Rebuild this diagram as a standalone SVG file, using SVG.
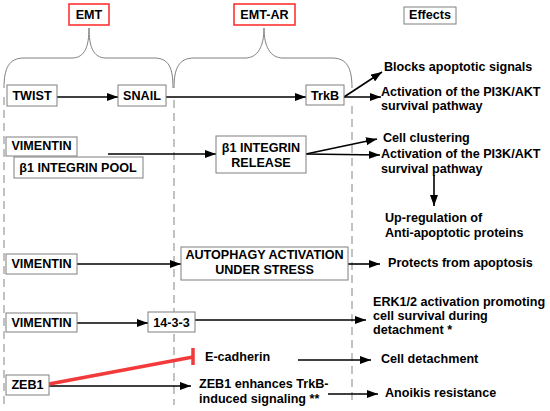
<svg xmlns="http://www.w3.org/2000/svg" width="550" height="411" viewBox="0 0 550 411">
<style>
text{font-family:"Liberation Sans",Arial,sans-serif;font-weight:bold;font-size:12.6px;fill:#000}
.c{text-anchor:middle}
.box{fill:#fff;stroke:#7f7f7f;stroke-width:1}
.red{fill:#fff;stroke:#ff3333;stroke-width:1.6}
.dash{stroke:#9a9a9a;stroke-width:1.2;stroke-dasharray:8,5;fill:none}
.brace{stroke:#808080;stroke-width:1;fill:none}
.arr{stroke:#000;stroke-width:1.6;fill:none;marker-end:url(#ah)}
</style>
<defs>
<marker id="ah" markerUnits="userSpaceOnUse" markerWidth="12" markerHeight="8" refX="11" refY="4" orient="auto">
<path d="M0,0 L11,4 L0,8 z" fill="#000"/>
</marker>
</defs>
<rect width="550" height="411" fill="#fff"/>
<g id="guides">
<line class="dash" x1="4" y1="97" x2="4" y2="405"/>
<line class="dash" x1="174" y1="100" x2="174" y2="405"/>
<line class="dash" x1="352" y1="106" x2="352" y2="405"/>
<path class="brace" d="M4,88 C4,68 9,58 24,58 L72,58 C85,58 89,46 89,28 C89,46 93,58 106,58 L154,58 C169,58 173,68 173,88"/>
<path class="brace" d="M174,88 C174,68 179,58 194,58 L245,58 C258,58 264,46 264,28 C264,46 270,58 283,58 L332,58 C347,58 352,68 352,88"/>
</g>
<g id="emt"><rect class="red" x="69" y="4" width="40" height="21"/><text class="c" x="89" y="19">EMT</text></g>
<g id="emt-ar"><rect class="red" x="234" y="4" width="61" height="21"/><text class="c" x="264.5" y="19">EMT-AR</text></g>
<g id="effects"><rect class="box" x="404" y="7" width="52" height="17"/><text class="c" x="430" y="19">Effects</text></g>
<g id="connectors">
<line class="arr" x1="57" y1="97" x2="118" y2="97"/>
<line class="arr" x1="166" y1="97" x2="306" y2="97"/>
<line class="arr" x1="344" y1="97" x2="382" y2="72"/>
<line class="arr" x1="344" y1="97" x2="381" y2="97"/>
<line class="arr" x1="108" y1="154" x2="216" y2="154"/>
<line class="arr" x1="306" y1="154" x2="377" y2="139"/>
<line class="arr" x1="306" y1="154" x2="380" y2="155"/>
<line class="arr" x1="434" y1="175" x2="434" y2="206"/>
<line class="arr" x1="77" y1="264" x2="181" y2="264"/>
<line class="arr" x1="348" y1="264" x2="380" y2="264"/>
<line class="arr" x1="77" y1="323" x2="148" y2="323"/>
<line class="arr" x1="195" y1="320" x2="366" y2="320"/>
<line class="arr" x1="298" y1="360" x2="371" y2="360"/>
<line class="arr" x1="49" y1="386" x2="191" y2="386"/>
<line class="arr" x1="328" y1="394" x2="378" y2="394"/>
<line x1="49" y1="384" x2="193" y2="357" stroke="#f23a3a" stroke-width="3.5"/>
<line x1="193" y1="348" x2="193" y2="365" stroke="#f23a3a" stroke-width="3.5"/>
</g>
<g id="twist"><rect class="box" x="7" y="85" width="50" height="21"/><text class="c" x="32" y="100">TWIST</text></g>
<g id="snail"><rect class="box" x="118" y="85" width="48" height="21"/><text class="c" x="142" y="100">SNAIL</text></g>
<g id="trkb"><rect class="box" x="306" y="85" width="38" height="20"/><text class="c" x="325" y="100">TrkB</text></g>
<g id="vimentin1"><rect class="box" x="6" y="137" width="71" height="19"/><text class="c" x="41.5" y="150">VIMENTIN</text></g>
<g id="integrin-pool"><rect class="box" x="14" y="157" width="129" height="21"/><text class="c" x="78" y="172">β1 INTEGRIN POOL</text></g>
<g id="integrin-release"><rect class="box" x="216" y="136" width="90" height="37"/><text class="c" x="261" y="152">β1 INTEGRIN</text><text class="c" x="261" y="167">RELEASE</text></g>
<g id="vimentin2"><rect class="box" x="6" y="254" width="71" height="20"/><text class="c" x="41.5" y="268">VIMENTIN</text></g>
<g id="autophagy"><rect class="box" x="181" y="247" width="167" height="33"/><text class="c" x="264.5" y="259">AUTOPHAGY ACTIVATION</text><text class="c" x="264.5" y="274">UNDER STRESS</text></g>
<g id="vimentin3"><rect class="box" x="6" y="313" width="71" height="19"/><text class="c" x="41.5" y="327">VIMENTIN</text></g>
<g id="p1433"><rect class="box" x="148" y="312" width="47" height="20"/><text class="c" x="171.5" y="327">14-3-3</text></g>
<g id="zeb1"><rect class="box" x="6" y="375" width="43" height="20"/><text class="c" x="27.5" y="389">ZEB1</text></g>
<g id="labels">
<text x="384" y="71">Blocks apoptotic signals</text>
<text x="381" y="96">Activation of the PI3K/AKT</text>
<text x="381" y="110">survival pathway</text>
<text x="383" y="142">Cell clustering</text>
<text x="381" y="158">Activation of the PI3K/AKT</text>
<text x="381" y="173">survival pathway</text>
<text x="385" y="222">Up-regulation of</text>
<text x="385" y="237">Anti-apoptotic proteins</text>
<text x="388" y="267">Protects from apoptosis</text>
<text x="373" y="306">ERK1/2 activation promoting</text>
<text x="373" y="320">cell survival during</text>
<text x="373" y="334">detachment *</text>
<text x="205" y="361">E-cadherin</text>
<text x="381" y="363">Cell detachment</text>
<text x="199" y="388">ZEB1 enhances TrkB-</text>
<text x="199" y="403">induced signaling **</text>
<text x="385" y="397">Anoikis resistance</text>
</g>
</svg>
